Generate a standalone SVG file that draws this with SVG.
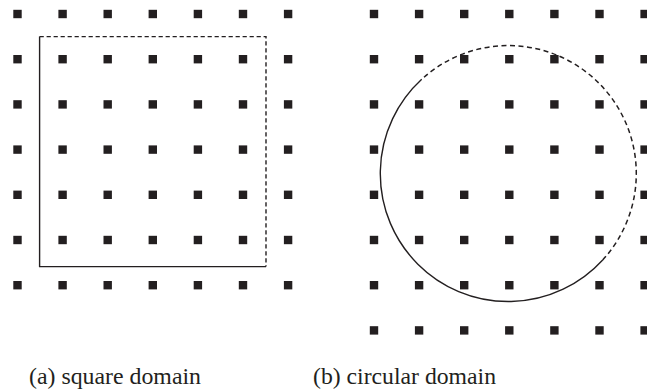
<svg xmlns="http://www.w3.org/2000/svg" xmlns:xlink="http://www.w3.org/1999/xlink" width="647" height="391" viewBox="0 0 647 391">
<style>
.dot{fill:#231f20}
.solid{fill:none;stroke:#231f20;stroke-width:1.4}
.dash{fill:none;stroke:#231f20;stroke-width:1.4;stroke-dasharray:4.2 2.8}
.dashc{fill:none;stroke:#231f20;stroke-width:1.5;stroke-dasharray:5 3.5}
</style>
<defs>
<rect id="d" class="dot" x="-4.2" y="-4.2" width="8.4" height="8.4"/>
<g id="row7">
<use xlink:href="#d" x="0"/><use xlink:href="#d" x="45.1"/><use xlink:href="#d" x="90.2"/><use xlink:href="#d" x="135.3"/><use xlink:href="#d" x="180.4"/><use xlink:href="#d" x="225.5"/><use xlink:href="#d" x="270.6"/>
</g>
</defs>
<rect width="647" height="391" fill="#ffffff"/>
<g id="grid-a" transform="translate(17.5,14)">
<use xlink:href="#row7" y="0"/><use xlink:href="#row7" y="45.2"/><use xlink:href="#row7" y="90.4"/><use xlink:href="#row7" y="135.6"/><use xlink:href="#row7" y="180.8"/><use xlink:href="#row7" y="226"/><use xlink:href="#row7" y="271.2"/>
</g>
<g id="domain-a">
<path class="solid" d="M39.6,36.6 V266.6 H266"/>
<path class="dash" d="M39.6,36.6 H266 V266.6"/>
</g>
<g id="grid-b" transform="translate(374,14)">
<use xlink:href="#row7" y="0"/><use xlink:href="#row7" y="45.2"/><use xlink:href="#row7" y="90.4"/><use xlink:href="#row7" y="135.6"/><use xlink:href="#row7" y="180.8"/><use xlink:href="#row7" y="226"/><use xlink:href="#row7" y="271.2"/><use xlink:href="#row7" y="316.4"/>
</g>
<g id="domain-b">
<path class="solid" d="M421.7,79.3 A128,128 0 1 0 602.7,260"/>
<path class="dashc" d="M602.7,260 A128,128 0 0 0 421.7,79.3"/>
</g>
<g id="captions" font-family="'Liberation Serif', 'DejaVu Serif', serif" font-size="23.7" fill="#231f20">
<text x="29" y="384.3" textLength="172" lengthAdjust="spacingAndGlyphs">(a) square domain</text>
<text x="313" y="384.3" textLength="183" lengthAdjust="spacingAndGlyphs">(b) circular domain</text>
</g>
</svg>
